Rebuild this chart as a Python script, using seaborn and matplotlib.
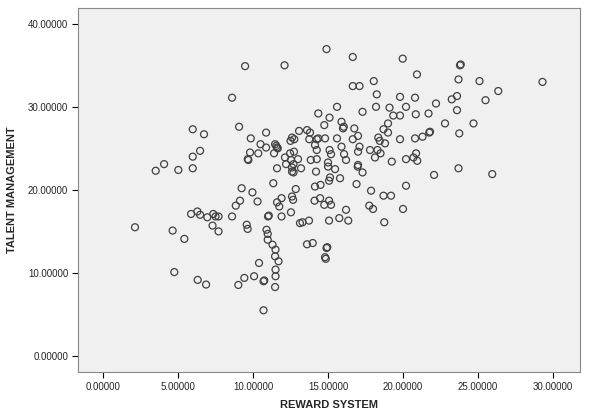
import matplotlib
matplotlib.use("Agg")
import matplotlib.pyplot as plt
import seaborn as sns
import pandas as pd
from matplotlib.ticker import FormatStrFormatter

reward_system = [
    14.9, 16.65, 19.98, 9.47, 12.1, 20.93, 23.8, 23.85, 23.7, 25.1, 29.3, 26.35, 23.6, 23.25, 25.5,
    22.2, 23.6, 22.8, 24.7, 23.75, 16.65, 17.1, 18.05, 18.25, 19.8, 20.8, 15.6, 18.2, 19.1, 20.2,
    17.3, 19.35, 19.8, 20.85, 21.7, 15.1, 15.9, 19.0, 16.0, 16.05, 16.75, 18.7, 17.0, 19.0, 21.75,
    21.8, 18.35, 16.65, 15.6, 19.8, 20.8, 21.3, 18.8, 18.45, 8.6, 14.35, 14.75, 9.07, 10.87, 9.85,
    13.07, 13.6, 13.8, 12.6, 14.35, 14.8, 5.98, 6.73, 6.47, 5.98, 4.07, 3.51, 5.02, 5.98, 2.13,
    4.64, 5.42, 5.87, 6.29, 6.47, 6.95, 7.35, 7.5, 7.7, 7.3, 7.7, 8.6, 4.75, 6.31, 6.87,
    10.98, 11.3, 11.5, 11.47, 11.7, 10.4, 11.5, 11.5, 9.42, 10.07, 10.7, 10.75, 9.02, 11.47, 10.7,
    13.6, 13.98, 14.9, 14.95, 14.85, 14.8, 10.5, 10.87, 11.47, 11.6, 11.55, 11.65, 12.5, 12.75, 13.75,
    14.25, 14.13, 14.25, 15.1, 15.2, 9.8, 10.35, 9.69, 9.65, 11.4, 12.47, 12.73, 12.13, 12.53, 13.0,
    13.85, 14.25, 12.2, 12.7, 15.0, 15.0, 11.6, 12.6, 13.2, 12.6, 12.7, 14.2, 15.13, 15.07, 11.35,
    14.13, 14.5, 12.85, 9.24, 9.96, 12.6, 12.67, 11.9, 11.6, 11.75, 9.13, 8.85, 10.3, 14.1, 14.47,
    14.75, 15.2, 15.07, 11.0, 11.05, 11.9, 12.53, 13.13, 13.3, 13.73, 15.07, 9.58, 9.64, 10.9, 10.98,
    15.9, 17.1, 17.8, 18.3, 18.5, 18.13, 17.0, 16.07, 16.2, 19.25, 20.2, 20.7, 20.95, 20.87, 16.98,
    17.0, 15.47, 17.3, 15.8, 22.07, 16.9, 20.2, 17.87, 18.7, 19.2, 17.75, 18.0, 20.0, 16.2, 15.75,
    16.35, 18.75, 23.7, 25.95,
]

talent_management = [
    36.95, 36.0, 35.8, 34.9, 35.0, 33.9, 35.0, 35.1, 33.3, 33.1, 33.0, 31.9, 31.3, 30.9, 30.8,
    30.4, 29.6, 28.0, 28.0, 26.8, 32.5, 32.5, 33.1, 31.5, 31.2, 31.1, 30.0, 30.0, 29.9, 30.0,
    29.4, 28.95, 28.95, 29.1, 29.2, 28.7, 28.2, 28.0, 27.4, 27.6, 27.4, 27.3, 26.5, 26.9, 26.9,
    27.0, 26.3, 26.1, 26.2, 26.1, 26.2, 26.4, 25.6, 25.9, 31.1, 29.2, 27.8, 27.6, 26.9, 26.2,
    27.1, 27.2, 26.9, 26.3, 26.2, 26.2, 27.3, 26.7, 24.7, 24.0, 23.1, 22.3, 22.4, 22.6, 15.5,
    15.1, 14.1, 17.1, 17.4, 17.0, 16.7, 17.1, 16.8, 16.8, 15.7, 15.0, 16.8, 10.1, 9.16, 8.6,
    14.0, 13.4, 12.8, 12.0, 11.4, 11.2, 10.4, 9.6, 9.4, 9.6, 9.0, 9.1, 8.55, 8.3, 5.5,
    13.45, 13.6, 13.0, 13.1, 11.7, 11.9, 25.5, 25.1, 25.5, 25.1, 25.3, 25.0, 25.9, 26.1, 26.1,
    26.1, 25.4, 24.8, 24.8, 24.3, 24.5, 24.4, 23.6, 23.7, 24.4, 24.4, 24.6, 23.9, 23.6, 23.7,
    23.6, 23.7, 23.1, 23.1, 23.3, 22.8, 22.6, 22.7, 22.6, 22.2, 22.1, 22.2, 21.5, 21.1, 20.8,
    20.4, 20.6, 20.1, 20.2, 19.7, 19.2, 18.8, 19.0, 18.5, 18.0, 18.7, 18.1, 18.6, 18.7, 19.0,
    18.2, 18.2, 18.7, 16.8, 16.9, 16.8, 17.3, 16.0, 16.1, 16.3, 16.3, 15.8, 15.3, 15.2, 14.7,
    25.2, 25.2, 24.8, 24.8, 24.4, 23.9, 24.6, 24.3, 23.6, 23.4, 23.7, 23.9, 23.5, 24.4, 22.8,
    23.0, 22.5, 22.1, 21.4, 21.8, 20.7, 20.5, 19.9, 19.3, 19.3, 18.1, 17.7, 17.7, 17.6, 16.6,
    16.3, 16.1, 22.6, 21.9,
]

x_ticks = [0, 5, 10, 15, 20, 25, 30]
y_ticks = [0, 10, 20, 30, 40]

df = pd.DataFrame({"REWARD SYSTEM": reward_system, "TALENT MANAGEMENT": talent_management})

sns.set_style("white")
plt.rcParams["font.family"] = ["Liberation Sans", "DejaVu Sans"]

fig = plt.figure(figsize=(5.89, 4.19), dpi=100)
ax = fig.add_axes([78 / 589, 1 - 372 / 419, (580 - 78) / 589, (372 - 8) / 419])
ax.set_facecolor("#f0f0f0")

sns.scatterplot(data=df, x="REWARD SYSTEM", y="TALENT MANAGEMENT", ax=ax,
                marker="o", s=25, facecolor="none", edgecolor="#404040", linewidth=0.9)

ax.set_xlim(-1.67, 31.8)
ax.set_ylim(-1.93, 41.9)
ax.set_xticks(x_ticks)
ax.set_yticks(y_ticks)
ax.xaxis.set_major_formatter(FormatStrFormatter("%.5f"))
ax.yaxis.set_major_formatter(FormatStrFormatter("%.5f"))
ax.tick_params(axis="both", which="major", labelsize=7, length=4, width=0.8,
               color="black", direction="out", bottom=True, left=True, pad=3)
for sp in ax.spines.values():
    sp.set_color("#888888")
    sp.set_linewidth(0.8)

ax.set_xlabel("REWARD SYSTEM", fontsize=8, fontweight="bold", labelpad=6)
ax.set_ylabel("TALENT MANAGEMENT", fontsize=8, fontweight="bold", labelpad=8)

fig.savefig("out.png", dpi=100)
